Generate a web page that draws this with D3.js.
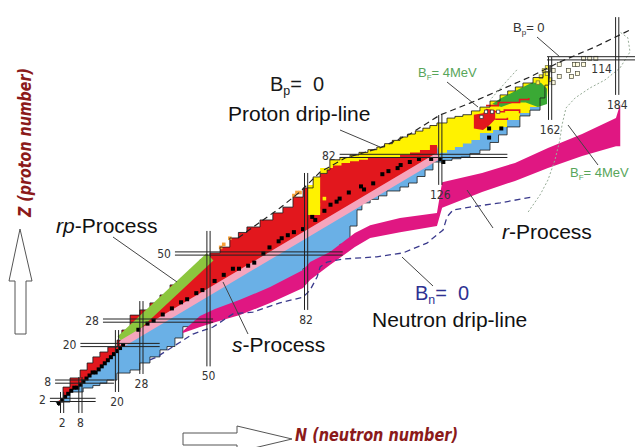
<!DOCTYPE html>
<html>
<head>
<meta charset="utf-8">
<script src="https://cdn.jsdelivr.net/npm/d3@7"></script>
<style>
  body { margin: 0; background: #fff; }
  svg { display: block; }
</style>
</head>
<body>
<div id="chart-area"></div>
<script>

// chart of nuclides, every point is [N, Z]
// proton-rich limit of known nuclei
var protonEdge = [[0,1.3],[2.3,6.2],[4.6,9.2],[7.9,11.8],[10.2,14.1],[12.1,16.1],[14.4,17.7],[17,19.3],[20,21.6],
  [21.6,24.9],[24.3,29.8],[27.5,31.5],[30.8,33.8],[34.1,36.4],[37.4,39.7],[40.7,41.3],[43.9,44.6],[47.2,47.9],
  [50.5,50.2],[53.8,52.1],[57,55.1],[62.6,58.7],[66.9,61],[71.1,63.3],[74.4,65.2],[77.7,68.5],[81,71.5],
  [84.3,75.1],[88.9,77.4],[89.8,80.7],[96.4,82.3],[105.2,84.9],[112.8,88.2],[120.3,91.1],[124.9,92.8],
  [128.2,94.4],[133.4,95.5],[139,98],[145.6,102],[153.1,105.9],[159.7,109.5],[162,111.8]];
// neutron-rich limit of known nuclei
var neutronEdge = [[1,0],[4.6,1.3],[8.9,4.6],[12.1,5.9],[16.7,7.5],[20,8.5],[24.3,10.8],[27.5,11.8],[30.8,14.1],
  [34.1,16.1],[36.4,18.4],[39,19.5],[41.6,22.3],[45.6,26],[49.5,28],[53.8,30],[60.3,32],[70.2,36],[81,41.5],
  [84.3,45],[89.8,48],[96.4,53],[98.7,59],[100.3,64.3],[103,66.6],[108.5,68.9],[112.8,70.5],[118.4,73.1],
  [123.6,77.4],[126.9,80],[135.7,81.6],[142.3,83.9],[147.9,88.9],[152.1,91.5],[155.4,95.1],[158.7,97],
  [160.3,101],[161.6,105.2]];
// valley of stability (red above, blue below)
var stabilityLine = [[0.5,1.5],[3,3],[6,5.5],[9,8],[12,10.5],[15,13.3],[18,16],[21,19],[22,20.7],[125,81.3]];
// border between beta+ (red) and alpha (yellow)
var alphaBorder = [[86.6,62.6],[86.6,74.8],[90.8,78],[96.4,79.7],[105.2,81.3],[112.8,81.6],[122.6,83.9],[124.9,85.6]];
// top of the beta- (blue) band beyond N = 126
var betaMinusTop = [[125.9,81.3],[128.2,83],[133.4,84.9],[139,87.2],[143.3,89.5],[147.9,91.5],[152.1,93.8],
  [155.4,96.1],[158.7,98],[161,101]];
var fissionZone = [[143,99],[146,101],[149,102.5],[152,104],[156,106],[159,106],[161,104],[161,99],[158,98],
  [154,99.5],[150,99.5],[146,98]];
var redBlob = [[137,91],[137,95.5],[140,96],[141,97.5],[144,97],[144,94],[142,92],[140,90.5]];
var redTraces = [
  [[141,98.5],[145,99.5],[149,99.5],[152,100.5],[155,101]],
  [[143,96.5],[147,97],[150,97],[152,96]],
  [[144,94],[148,94.5]]
];
var whiteCells = [[141,96.5],[143,96.5],[145,96.5],[139.5,94.8]];
var stableCells = [[1,1],[2,2],[3,3],[4,4],[5,5],[6,6],[7,6],[8,7],[9,8],[10,9],[11,10],[12,11],[13,11],[14,12],
  [15,13],[16,14],[17,15],[18,16],[19,17],[20,18],[21,19],[22,20],
  [27,25],[30,27],[32,28],[35,30],[38,32],[41,34],[43,35],[46,37],[48,38],[52,41],[55,43],[58,45],[60,45],
  [63,46],[65,47],[68,50],[70,52],[73,54],[74,55],[76,56],[78,57],[81,58],[84,62],[85,61],[88,64],[90,66],
  [92,67],[93,68],[96,70],[100,72],[101,71],[104,73],[107,76],[109,77],[112,78],[113,79],[116,80],[119,81],
  [123,81],[126,81],[127,80],[142,91],[146,91],[142,88]];
var alphaCells = [[84,66],[86,66],[84,64],[86,64],[88,68]];
var protonEmitters = [[54,52],[55,53],[57,55],[78,69],[79,70],[80,70]];
var heavyYellow = [[158,106],[159,108],[160,110],[161,109],[162,107],[161,111]];
var heavyCells = [[163,106],[163,110],[165,108],[165,112],[168,110],[169,108],[170,112],[171,109],[171,112],
  [173,112],[173,114],[175,114],[177,114]];
// process paths
var rpPath = [[21.3,21.6],[50.5,48.9]];
var sPath = [[22,20.7],[124.5,81.5]];
// r-process band
var rN      = [41.6,47.2,52.1,60.3,70.2,81,83.3,89.8,98,103,112.8,124.9,126.6,139.7,150.5,161.3,172.5,183.6,185];
var rTop    = [24.6,29.5,31.8,34.8,39,44.6,47.2,50.5,56.7,59.3,61.6,63.3,73.4,76.4,79.7,84.6,89.2,94.4,99];
var rBottom = [23.9,25.9,27.5,29.8,33.8,38.7,41.3,46.2,52.1,55.1,57,59,65,70.2,73.8,78,82,85.2,85.2];
// drip lines and fission barrier
var bnLine = [[30.8,15.1],[33.1,16.1],[44.9,23.6],[51.5,25.9],[58,30.2],[64.6,30.8],[73.4,33.8],[81,35.7],
  [83.3,38],[85.6,42.3],[86.6,45.6],[88.9,47.2],[94.1,48.2],[105.2,48.9],[113.8,50.2],[121.6,53.4],[126.9,57.7],
  [128.2,62],[130.2,64.3],[135.7,65.2],[145.6,66.6],[156.1,68.5]];
var bpLine = [[59.7,55.1],[66.9,60.3],[73.4,64.9],[80,70.2],[86.6,76.7],[94.8,81.3],[106.2,84.6],[116.1,89.2],
  [125.9,95.4],[135.7,99.3],[145.6,103.6],[155.4,107.9],[165.2,112.8],[176.7,117.7],[188.2,123.3]];
var bfLine = [[154.8,63.6],[158.7,69.2],[161.3,74.1],[163.6,80.7],[165.2,87.2],[165.9,92.1],[167.2,97.7],
  [170.2,101],[175.1,104.3],[180,106.9],[184.9,110.8],[188.2,116.1],[187.5,120.7],[184.9,122.6]];
var bfLineLeft = [[151.1,110.2],[147.2,105.9],[142.3,100.3]];
// magic numbers
var magicZ = [2, 8, 20, 28, 50, 82, 114];
var magicZSpan = [[-2,13],[-0.3,19],[8,34],[15.4,51.5],[39,94],[93,148],[161,190]];
var magicN = [2, 8, 20, 28, 50, 82, 126, 162, 184];
var magicNSpan = [[-2.3,4.6],[-2.3,9.5],[4.6,24.9],[10.5,34.4],[13,57.4],[31.5,76.4],[72.5,95.4],[93.8,114.4],[102,127.5]];

var svg = d3.select("#chart-area").append("svg")
    .attr("width", 635)
    .attr("height", 447)
    .attr("font-family", "'Liberation Sans', Arial, sans-serif");

var x = d3.scaleLinear().domain([0, 184]).range([56, 617.2]);
var y = d3.scaleLinear().domain([0, 114]).range([406, 58.3]);

var line = d3.line()
    .x(function(d) { return x(d[0]); })
    .y(function(d) { return y(d[1]); });

// draw an edge as a staircase of roughly 3-nucleon steps
function stairs(pts) {
  var out = [pts[0]];
  for (var i = 1; i < pts.length; i++) {
    var a = pts[i - 1], b = pts[i];
    var k = Math.max(1, Math.round(Math.abs(b[0] - a[0]) / 3));
    for (var j = 1; j <= k; j++) {
      var n = a[0] + (b[0] - a[0]) * j / k;
      out.push([n, a[1] + (b[1] - a[1]) * (j - 1) / k]);
      out.push([n, a[1] + (b[1] - a[1]) * j / k]);
    }
  }
  return out;
}
function rev(a) { return a.slice().reverse(); }

function region(pts, fill) {
  svg.append("path").attr("d", line(pts) + "Z").attr("fill", fill);
}

function cells(list, size, fill, stroke) {
  svg.append("g").selectAll("rect")
    .data(list)
    .enter().append("rect")
      .attr("x", function(d) { return x(d[0]) - size / 2; })
      .attr("y", function(d) { return y(d[1]) - size / 2; })
      .attr("width", size)
      .attr("height", size)
      .attr("fill", fill)
      .attr("stroke", stroke || "none")
      .attr("stroke-width", 0.7);
}

// whole chart (beta- blue underneath)
var outline = stairs(protonEdge).concat(stairs(rev(neutronEdge)));
region(outline, "#6ab0e6");

// beta+ / EC
var redUpper = protonEdge.filter(function(d) { return d[0] <= 125; });
region(stairs(redUpper).concat(rev(stabilityLine)), "#e2171d");

// alpha
var yTop = [[82.6, 72.5]].concat(protonEdge.filter(function(d) { return d[0] > 82.6; }));
region([[82.6, 62.6]].concat(stairs(yTop), stairs(rev(betaMinusTop)), stairs(rev(alphaBorder))), "#fff200");

// spontaneous fission
region(fissionZone, "#3aa935");
region(redBlob, "#e2171d");

redTraces.forEach(function(t) {
  svg.append("path").attr("d", line(stairs(t)))
    .attr("fill", "none").attr("stroke", "#e2171d").attr("stroke-width", 1.6);
});
cells(whiteCells, 3.2, "#fff", "#333");
cells(alphaCells, 3.6, "#fff200");
cells(protonEmitters, 3.6, "#f6a03a");
cells(heavyYellow, 3.6, "#fff34d", "#6b6b30");
cells(heavyCells, 4, "#fffbe0", "#4a4a3a");

// thin outline of the known nuclei
svg.append("path").attr("d", line(outline) + "Z")
  .attr("fill", "none").attr("stroke", "#1b1b1b").attr("stroke-width", 0.8);

// r-process band
var area = d3.area()
    .x(function(d, i) { return x(rN[i]); })
    .y0(function(d, i) { return y(rBottom[i]); })
    .y1(function(d, i) { return y(rTop[i]); });
svg.append("path").attr("d", area(rN)).attr("fill", "#e01782");

// rp-process and s-process paths
svg.append("path").attr("d", line(rpPath))
  .attr("stroke", "#8cc63e").attr("stroke-width", 10).attr("fill", "none");
svg.append("path").attr("d", line(sPath))
  .attr("stroke", "#f5a5bd").attr("stroke-width", 7).attr("fill", "none").attr("stroke-linecap", "round");

cells(stableCells, 4, "#000");

// drip lines
svg.append("path").attr("d", line(bpLine))
  .attr("fill", "none").attr("stroke", "#222").attr("stroke-width", 1.2).attr("stroke-dasharray", "6,4");
svg.append("path").attr("d", line(bnLine))
  .attr("fill", "none").attr("stroke", "#3a3a8c").attr("stroke-width", 1.3).attr("stroke-dasharray", "6,4");
svg.append("path").attr("d", line(bfLine))
  .attr("fill", "none").attr("stroke", "#98ad98").attr("stroke-width", 1).attr("stroke-dasharray", "2,2");
svg.append("path").attr("d", line(bfLineLeft))
  .attr("fill", "none").attr("stroke", "#98ad98").attr("stroke-width", 1).attr("stroke-dasharray", "2,2");

// magic number double lines
var tickFont = "'DejaVu Sans Condensed', 'DejaVu Sans', sans-serif";
var magic = svg.append("g").attr("stroke", "#222").attr("stroke-width", 1);
magicZ.forEach(function(z, i) {
  [-1.6, 1.6].forEach(function(o) {
    magic.append("line")
      .attr("x1", x(magicZSpan[i][0])).attr("x2", x(magicZSpan[i][1]))
      .attr("y1", y(z) + o).attr("y2", y(z) + o);
  });
  var t = svg.append("text").text(z).attr("font-family", tickFont).attr("font-size", 12).attr("fill", "#333");
  if (z === 114) {
    t.attr("x", x(175.5)).attr("y", y(z) + 15);
  } else {
    t.attr("x", x(magicZSpan[i][0]) - 4).attr("y", y(z) + 4).attr("text-anchor", "end");
  }
});
magicN.forEach(function(n, i) {
  [-1.6, 1.6].forEach(function(o) {
    magic.append("line")
      .attr("x1", x(n) + o).attr("x2", x(n) + o)
      .attr("y1", y(magicNSpan[i][0])).attr("y2", y(magicNSpan[i][1]));
  });
  svg.append("text").text(n)
    .attr("x", x(n)).attr("y", y(magicNSpan[i][0]) + 14)
    .attr("text-anchor", "middle")
    .attr("font-family", tickFont).attr("font-size", 12).attr("fill", "#333");
});

// leader lines
var leaders = [[340,130,380,147],[113,237,177,282],[248,334,223,282],[467,190,493,228],
  [402,257,433,286],[537,37,560,57],[447,82,478,107],[568,125,598,165]];
svg.append("g").selectAll("line").data(leaders).enter().append("line")
  .attr("x1", function(d) { return d[0]; }).attr("y1", function(d) { return d[1]; })
  .attr("x2", function(d) { return d[2]; }).attr("y2", function(d) { return d[3]; })
  .attr("stroke", "#444").attr("stroke-width", 1);

// labels
function addText(px, py, parts, size, color, family) {
  var t = svg.append("text").attr("x", px).attr("y", py)
    .attr("font-size", size).attr("fill", color || "#111")
    .style("white-space", "pre");
  if (family) t.attr("font-family", family);
  parts.forEach(function(p) {
    var s = t.append("tspan").text(p[0]);
    if (p[1] === "i") s.attr("font-style", "italic");
    if (p[1] === "sub") s.attr("font-size", size * 0.62).attr("dy", size * 0.22);
    if (p[1] === "up") s.attr("dy", -size * 0.22);
  });
}
addText(270, 91, [["B"], ["p", "sub"], ["=  0", "up"]], 20, "#1a1a1a");
addText(228, 121, [["Proton drip-line"]], 21);
addText(56, 233, [["rp", "i"], ["-Process"]], 21);
addText(232, 352, [["s", "i"], ["-Process"]], 21);
addText(502, 239, [["r", "i"], ["-Process"]], 21);
addText(415, 300, [["B"], ["n", "sub"], ["=  0", "up"]], 20, "#2e3192");
addText(372, 327, [["Neutron drip-line"]], 21);
addText(513, 32, [["B"], ["p", "sub"], ["= 0", "up"]], 13, "#333");
addText(418, 77, [["B"], ["F", "sub"], ["= 4MeV", "up"]], 13, "#58a55a");
addText(570, 177, [["B"], ["F", "sub"], ["= 4MeV", "up"]], 13, "#58a55a");

// axis arrows and titles
var arrowStyle = { fill: "#fff", stroke: "#555" };
svg.append("path")
  .attr("d", "M15,334 L15,281 L9,281 L20,229 L32,281 L26,281 L26,334 Z")
  .attr("fill", arrowStyle.fill).attr("stroke", arrowStyle.stroke).attr("stroke-width", 1);
svg.append("path")
  .attr("d", "M183,433 L237,433 L237,426 L292,439 L237,452 L237,445 L183,445 Z")
  .attr("fill", arrowStyle.fill).attr("stroke", arrowStyle.stroke).attr("stroke-width", 1);

svg.append("text")
  .attr("transform", "translate(31,217) rotate(-90)")
  .attr("font-family", "'DejaVu Sans', sans-serif")
  .attr("font-style", "italic").attr("font-weight", "bold")
  .attr("font-size", 18).attr("fill", "#8b1a1a")
  .attr("textLength", 149).attr("lengthAdjust", "spacingAndGlyphs")
  .text("Z (proton number)");
svg.append("text")
  .attr("x", 295).attr("y", 441)
  .attr("font-family", "'DejaVu Sans', sans-serif")
  .attr("font-style", "italic").attr("font-weight", "bold")
  .attr("font-size", 18).attr("fill", "#8b1a1a")
  .attr("textLength", 163).attr("lengthAdjust", "spacingAndGlyphs")
  .text("N (neutron number)");

</script>
</body>
</html>
